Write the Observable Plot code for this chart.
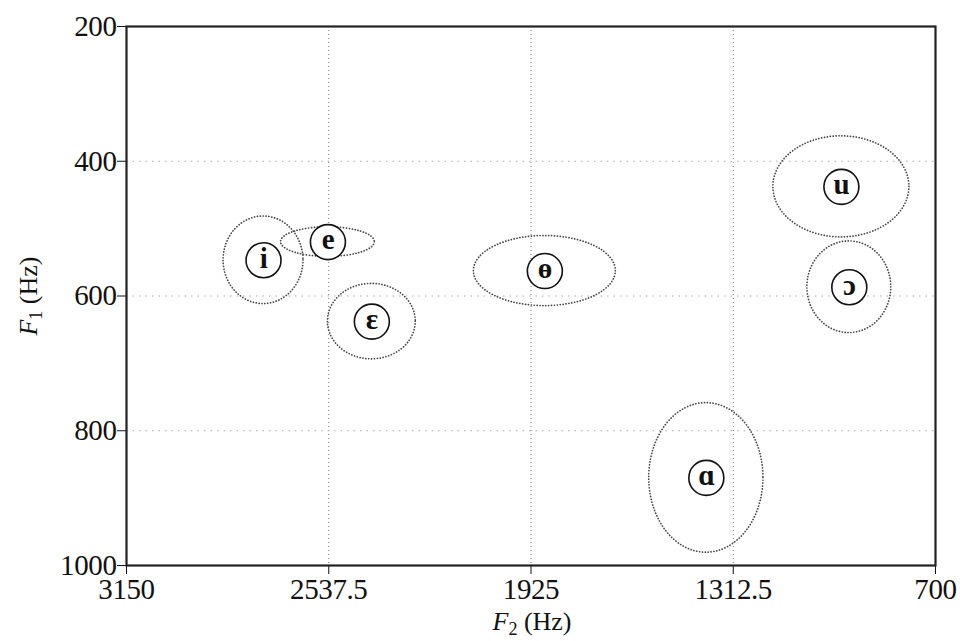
<!DOCTYPE html>
<html><head><meta charset="utf-8">
<script src="https://cdn.jsdelivr.net/npm/d3@7"></script>
<script src="https://cdn.jsdelivr.net/npm/@observablehq/plot@0.6"></script>
<style>html,body{margin:0;padding:0;background:#fff} svg{display:block}</style>
</head><body><div id="chart"></div>
<script>
// Vowel categories and their formant means / spreads (Hz)
const vowels   = ["i", "e", "ɛ", "ɵ", "u", "ɔ", "ɑ"];
const f2Mean   = [2735, 2540, 2407, 1883, 985, 961, 1394];
const f1Mean   = [547, 520, 638, 563, 438, 587, 870];
const f2Spread = [121, 142, 133, 215, 206, 127, 173];
const f1Spread = [65, 22, 56, 52, 75, 68, 111];
const xTicks = [3150, 2537.5, 1925, 1312.5, 700];
const yTicks = [200, 400, 600, 800, 1000];
const gridX  = [2537.5, 1925, 1312.5];
const gridY  = [400, 600, 800];

const data = vowels.map((v, i) => ({v, f2: f2Mean[i], f1: f1Mean[i], sx: f2Spread[i], sy: f1Spread[i]}));

function ellipseMark(index, scales) {
  const g = d3.create("svg:g");
  for (const d of data) {
    const cx = scales.x(d.f2), cy = scales.y(d.f1);
    const rx = Math.abs(scales.x(d.f2 + d.sx) - cx);
    const ry = Math.abs(scales.y(d.f1 + d.sy) - cy);
    g.append("ellipse")
      .attr("cx", cx).attr("cy", cy).attr("rx", rx).attr("ry", ry)
      .attr("fill", "none").attr("stroke", "#444").attr("stroke-width", 1.7)
      .attr("stroke-dasharray", "0.1,2.8").attr("stroke-linecap", "round");
  }
  return g.node();
}

const font = "'Liberation Serif', 'DejaVu Serif', serif";
const chart = Plot.plot({
  width: 960, height: 641,
  marginLeft: 126, marginRight: 25, marginTop: 26, marginBottom: 76,
  style: {fontFamily: font, fontSize: "29px", color: "#111", background: "#fff", letterSpacing: "-0.4px"},
  x: {domain: [3150, 700], ticks: xTicks, tickSize: 9, tickPadding: 4, label: null, tickFormat: d => String(d)},
  y: {domain: [200, 1000], reverse: true, ticks: yTicks, tickSize: 9, tickPadding: 1, label: null, tickFormat: d => String(d)},
  marks: [
    Plot.ruleX(gridX, {stroke: "#777", strokeWidth: 1, strokeDasharray: "1,3"}),
    Plot.ruleY(gridY, {stroke: "#aaa", strokeWidth: 1, strokeDasharray: "1.5,5"}),
    ellipseMark,
    Plot.dot(data, {x: "f2", y: "f1", r: 17.5, stroke: "#111", strokeWidth: 1.6, fill: "white"}),
    Plot.text(data, {x: "f2", y: "f1", text: "v", fontSize: 29, fontWeight: "bold", fill: "#111",
      fontFamily: font, dy: -2}),
    Plot.frame({stroke: "#222", strokeWidth: 2.2})
  ]
});
document.getElementById("chart").append(chart);

const svg = d3.select(chart);
function axisLabel(sel, sub) {
  sel.attr("font-family", font).attr("font-size", 26).attr("fill", "#111").attr("letter-spacing", 0);
  sel.append("tspan").attr("font-style", "italic").text("F");
  sel.append("tspan").attr("font-size", 18).attr("dy", 5).text(sub);
  sel.append("tspan").attr("dy", -5).text(" (Hz)");
}
axisLabel(svg.append("text").attr("x", 532).attr("y", 630).attr("text-anchor", "middle"), "2");
axisLabel(svg.append("text").attr("transform", "translate(37,296) rotate(-90)").attr("text-anchor", "middle"), "1");
</script>
</body></html>
